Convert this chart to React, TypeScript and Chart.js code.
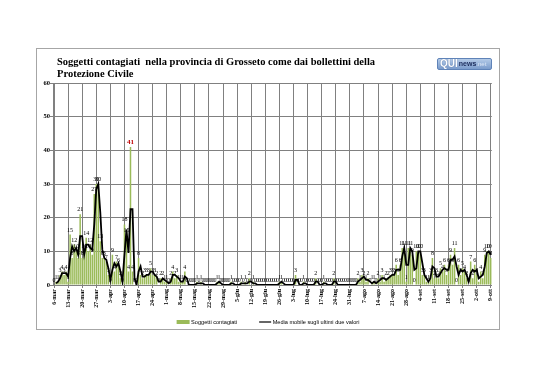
import React, { useEffect, useRef } from 'react';
import { Chart, registerables } from 'chart.js';

Chart.register(...registerables);

// ---- categories (daily, 6 March to 9 October) ----
const MONTHS = ['mar', 'apr', 'mag', 'giu', 'lug', 'ago', 'set', 'ott'];
const MONTH_DAYS = [31, 30, 31, 30, 31, 31, 30, 31];
const FIRST_DAY = 6;
const LAST_DAY = 9;
const CATEGORIES: string[] = [];
MONTHS.forEach((m, i) => {
  const first = i === 0 ? FIRST_DAY : 1;
  const last = i === MONTHS.length - 1 ? LAST_DAY : MONTH_DAYS[i];
  for (let d = first; d <= last; d++) CATEGORIES.push(`${d}-${m}`);
});

const TICK_LABELS = [
  '6-mar', '13-mar', '20-mar', '27-mar', '3-apr', '10-apr', '17-apr', '24-apr',
  '1-mag', '8-mag', '15-mag', '22-mag', '29-mag', '5-giu', '12-giu', '19-giu',
  '26-giu', '3-lug', '10-lug', '17-lug', '24-lug', '31-lug', '7-ago', '14-ago',
  '21-ago', '28-ago', '4-set', '11-set', '18-set', '25-set', '2-ott', '9-ott',
];

// ---- Soggetti contagiati (daily new cases) ----
const CONTAGI_MAR = [0, 1, 1, 3, 4, 3, 4, 1, 15, 8, 12, 10, 8, 21, 8, 10, 14, 10, 12, 9, 27, 30, 30, 13, 8, 8];
const CONTAGI_APR = [7, 3, 0, 9, 4, 7, 6, 2, 0, 18, 15, 4, 41, 4, 0, 0, 8, 3, 2, 3, 3, 3, 5, 3, 3, 2, 0, 2, 2, 1];
const CONTAGI_MAG = [1, 0, 2, 4, 2, 3, 1, 1, 1, 4, 0, 0, 0, 0, 0, 1, 0, 1, 0, 0, 0, 0, 0, 0, 0, 1, 1, 0, 0, 0, 0];
const CONTAGI_GIU = [0, 1, 0, 0, 0, 0, 1, 0, 1, 0, 2, 0, 1, 0, 0, 0, 0, 0, 0, 0, 0, 0, 0, 0, 0, 1, 1, 0, 0, 0];
const CONTAGI_LUG = [0, 0, 0, 3, 0, 0, 0, 1, 0, 0, 0, 0, 0, 2, 0, 0, 0, 1, 0, 0, 0, 0, 2, 0, 0, 0, 0, 0, 0, 0, 0];
const CONTAGI_AGO = [0, 0, 0, 2, 1, 3, 2, 1, 2, 0, 1, 1, 0, 2, 1, 3, 1, 2, 2, 3, 3, 3, 6, 3, 6, 11, 11, 1, 11, 11, 9];
const CONTAGI_SET = [0, 10, 10, 10, 3, 3, 1, 1, 3, 8, 2, 3, 2, 5, 4, 6, 3, 6, 9, 6, 11, 0, 6, 3, 5, 4, 2, 0, 7, 2];
const CONTAGI_OTT = [6, 3, 1, 4, 2, 9, 10, 10, 8];

// ---- Media mobile sugli ultimi due valori (as plotted) ----
const MEDIA_MAR = [null, 0.5, 1, 2, 3.5, 3.5, 3.5, 2.5, 8, 11.5, 10, 11, 9, 14.5, 14.5, 9, 12, 12, 11, 10.5, 18, 28.5, 30, 21.5, 10.5, 8];
const MEDIA_APR = [7.5, 5, 1.5, 4.5, 6.5, 5.5, 6.5, 4, 1, 9, 16.5, 9.5, 22.5, 22.5, 2, 0, 4, 5.5, 2.5, 2.5, 3, 3, 4, 4, 3, 2.5, 1, 1, 2, 1.5];
const MEDIA_MAG = [1, 0.5, 1, 3, 3, 2.5, 2, 1, 1, 2.5, 2, 0, 0, 0, 0, 0.5, 0.5, 0.5, 0.5, 0, 0, 0, 0, 0, 0, 0.5, 1, 0.5, 0, 0, 0];
const MEDIA_GIU = [0, 0.5, 0.5, 0, 0, 0, 0.5, 0.5, 0.5, 0.5, 1, 1, 0.5, 0.5, 0, 0, 0, 0, 0, 0, 0, 0, 0, 0, 0, 0.5, 1, 0.5, 0, 0];
const MEDIA_LUG = [0, 0, 0, 1.5, 1.5, 0, 0, 0.5, 0.5, 0, 0, 0, 0, 1, 1, 0, 0, 0.5, 0.5, 0, 0, 0, 1, 1, 0, 0, 0, 0, 0, 0, 0];
const MEDIA_AGO = [0, 0, 0, 1, 1.5, 2, 2.5, 1.5, 1.5, 1, 0.5, 1, 0.5, 1, 1.5, 2, 2, 1.5, 2, 2.5, 3, 3, 4.5, 4.5, 4.5, 8.5, 11, 6, 6, 11, 10];
const MEDIA_SET = [4.5, 5, 10, 10, 6.5, 3, 2, 1, 2, 5.5, 5, 2.5, 2.5, 3.5, 4.5, 5, 4.5, 4.5, 7.5, 7.5, 8.5, 5.5, 3, 4.5, 4, 4.5, 3, 1, 3.5, 4.5];
const MEDIA_OTT = [4, 4.5, 2, 2.5, 3, 5.5, 9.5, 10, 9];

const CONTAGI = [
  ...CONTAGI_MAR, ...CONTAGI_APR, ...CONTAGI_MAG, ...CONTAGI_GIU,
  ...CONTAGI_LUG, ...CONTAGI_AGO, ...CONTAGI_SET, ...CONTAGI_OTT,
];
const MEDIA = [
  ...MEDIA_MAR, ...MEDIA_APR, ...MEDIA_MAG, ...MEDIA_GIU,
  ...MEDIA_LUG, ...MEDIA_AGO, ...MEDIA_SET, ...MEDIA_OTT,
];

const SERIES_NAMES = ['Soggetti contagiati', 'Media mobile sugli ultimi due valori'];

const Y_MAX = 60;
const Y_STEP = 10;

const BAR_COLOR = '#9BBB59';
const GRID_COLOR = '#808080';
const SERIF = '"Liberation Serif", "Times New Roman", serif';
const SANS = '"Liberation Sans", Arial, sans-serif';

const valueLabels = {
  id: 'valueLabels',
  afterDatasetsDraw(chart: any) {
    const meta = chart.getDatasetMeta(0);
    const ctx = chart.ctx;
    const maxVal = Math.max(...CONTAGI);
    ctx.save();
    ctx.textAlign = 'center';
    ctx.textBaseline = 'bottom';
    meta.data.forEach((bar: any, i: number) => {
      const v = CONTAGI[i];
      const isMax = v === maxVal;
      ctx.font = isMax ? `bold 7px ${SERIF}` : `6px ${SERIF}`;
      ctx.fillStyle = isMax ? '#C00000' : '#000000';
      ctx.fillText(String(v), bar.x, bar.y - 1.5);
    });
    ctx.restore();
  },
};

// legend drawn under the plot, centred on the chart
const bottomLegend = {
  id: 'bottomLegend',
  afterDraw(chart: any) {
    const ctx = chart.ctx;
    ctx.save();
    ctx.font = `5.6px ${SANS}`;
    ctx.textBaseline = 'middle';
    ctx.textAlign = 'left';
    ctx.fillStyle = '#000';
    const y = 273;
    const boxW = 13;
    const gapTxt = 1.5;
    const gapItem = 22;
    const w0 = ctx.measureText(SERIES_NAMES[0]).width;
    const w1 = ctx.measureText(SERIES_NAMES[1]).width;
    const total = boxW + gapTxt + w0 + gapItem + 12 + gapTxt + w1;
    let x = chart.width / 2 - total / 2;
    ctx.fillStyle = BAR_COLOR;
    ctx.fillRect(x, y - 2, boxW, 4);
    x += boxW + gapTxt;
    ctx.fillStyle = '#000';
    ctx.fillText(SERIES_NAMES[0], x, y);
    x += w0 + gapItem;
    ctx.strokeStyle = '#000';
    ctx.lineWidth = 1.2;
    ctx.beginPath();
    ctx.moveTo(x, y);
    ctx.lineTo(x + 12, y);
    ctx.stroke();
    x += 12 + gapTxt;
    ctx.fillText(SERIES_NAMES[1], x, y);
    ctx.restore();
  },
};

const isTick = (i: number) => TICK_LABELS.includes(CATEGORIES[i]);

export default function App() {
  const canvasRef = useRef<HTMLCanvasElement | null>(null);

  useEffect(() => {
    if (!canvasRef.current) return;
    const chart = new Chart(canvasRef.current, {
      type: 'bar',
      data: {
        labels: CATEGORIES,
        datasets: [
          {
            type: 'bar',
            label: SERIES_NAMES[0],
            data: CONTAGI,
            backgroundColor: BAR_COLOR,
            borderWidth: 0,
            barPercentage: 0.75,
            categoryPercentage: 1,
            order: 1,
          },
          {
            type: 'line',
            label: SERIES_NAMES[1],
            data: MEDIA as any,
            borderColor: '#000000',
            borderWidth: 1.8,
            pointRadius: 0,
            tension: 0,
            spanGaps: false,
            order: 0,
          } as any,
        ],
      },
      options: {
        responsive: false,
        animation: false,
        layout: { padding: { left: 0, right: 4, top: 34, bottom: 18 } },
        plugins: {
          title: { display: false },
          tooltip: { enabled: false },
          legend: { display: false },
        },
        scales: {
          x: {
            afterFit: (s: any) => { s.height = 26; },
            grid: {
              offset: false,
              color: (c: any) => (isTick(c.index) ? GRID_COLOR : 'rgba(0,0,0,0)'),
              tickColor: (c: any) => (isTick(c.index) ? GRID_COLOR : 'rgba(0,0,0,0)'),
              tickLength: 3,
              lineWidth: 1,
            },
            border: { display: true, color: GRID_COLOR, width: 1 },
            ticks: {
              autoSkip: false,
              maxRotation: 90,
              minRotation: 90,
              padding: 1,
              color: '#000000',
              font: { family: SERIF, size: 6, weight: 'bold' },
              callback: (_v: any, i: number) => (isTick(i) ? CATEGORIES[i] : ''),
            },
          },
          y: {
            min: 0,
            max: Y_MAX,
            afterFit: (s: any) => { s.width = 16; },
            grid: { color: GRID_COLOR, tickLength: 3, lineWidth: 1 },
            border: { display: true, color: GRID_COLOR, width: 1 },
            ticks: {
              stepSize: Y_STEP,
              padding: 0,
              color: '#000000',
              font: { family: SERIF, size: 6.5, weight: 'bold' },
            },
          },
        },
      },
      plugins: [valueLabels, bottomLegend],
    });
    return () => chart.destroy();
  }, []);

  return (
    <div
      style={{
        position: 'relative',
        marginLeft: 28,
        marginTop: 40,
        width: 464,
        height: 282,
        boxSizing: 'border-box',
        border: '1px solid #a6a6a6',
        background: '#ffffff',
      }}
    >
      <canvas
        ref={canvasRef}
        width={462}
        height={280}
        style={{ position: 'absolute', left: 0, top: 0, width: 462, height: 280 }}
      />
      <div
        style={{
          position: 'absolute',
          left: 20,
          top: 7,
          fontFamily: SERIF,
          fontWeight: 'bold',
          fontSize: 10.5,
          lineHeight: '11.5px',
          whiteSpace: 'pre',
          color: '#000',
        }}
      >
        {'Soggetti contagiati  nella provincia di Grosseto come dai bollettini della\nProtezione Civile'}
      </div>
      <div
        style={{
          position: 'absolute',
          left: 400,
          top: 9,
          width: 55,
          height: 12,
          boxSizing: 'border-box',
          borderRadius: 2,
          border: '1px solid #5f83b8',
          background: 'linear-gradient(#b4cbe8, #7b9ccc)',
          fontFamily: SANS,
          display: 'flex',
          alignItems: 'center',
          paddingLeft: 2,
          overflow: 'hidden',
        }}
      >
        <span style={{ color: '#ffffff', fontWeight: 'bold', fontSize: 10, lineHeight: '10px', textShadow: '0 0 1px #2b4f8a' }}>QUI</span>
        <span style={{ color: '#1c2c5c', fontWeight: 'bold', fontSize: 7, lineHeight: '10px', marginLeft: 1 }}>news</span>
        <span style={{ color: '#dfe8f6', fontSize: 6, lineHeight: '10px' }}>.net</span>
      </div>
    </div>
  );
}
